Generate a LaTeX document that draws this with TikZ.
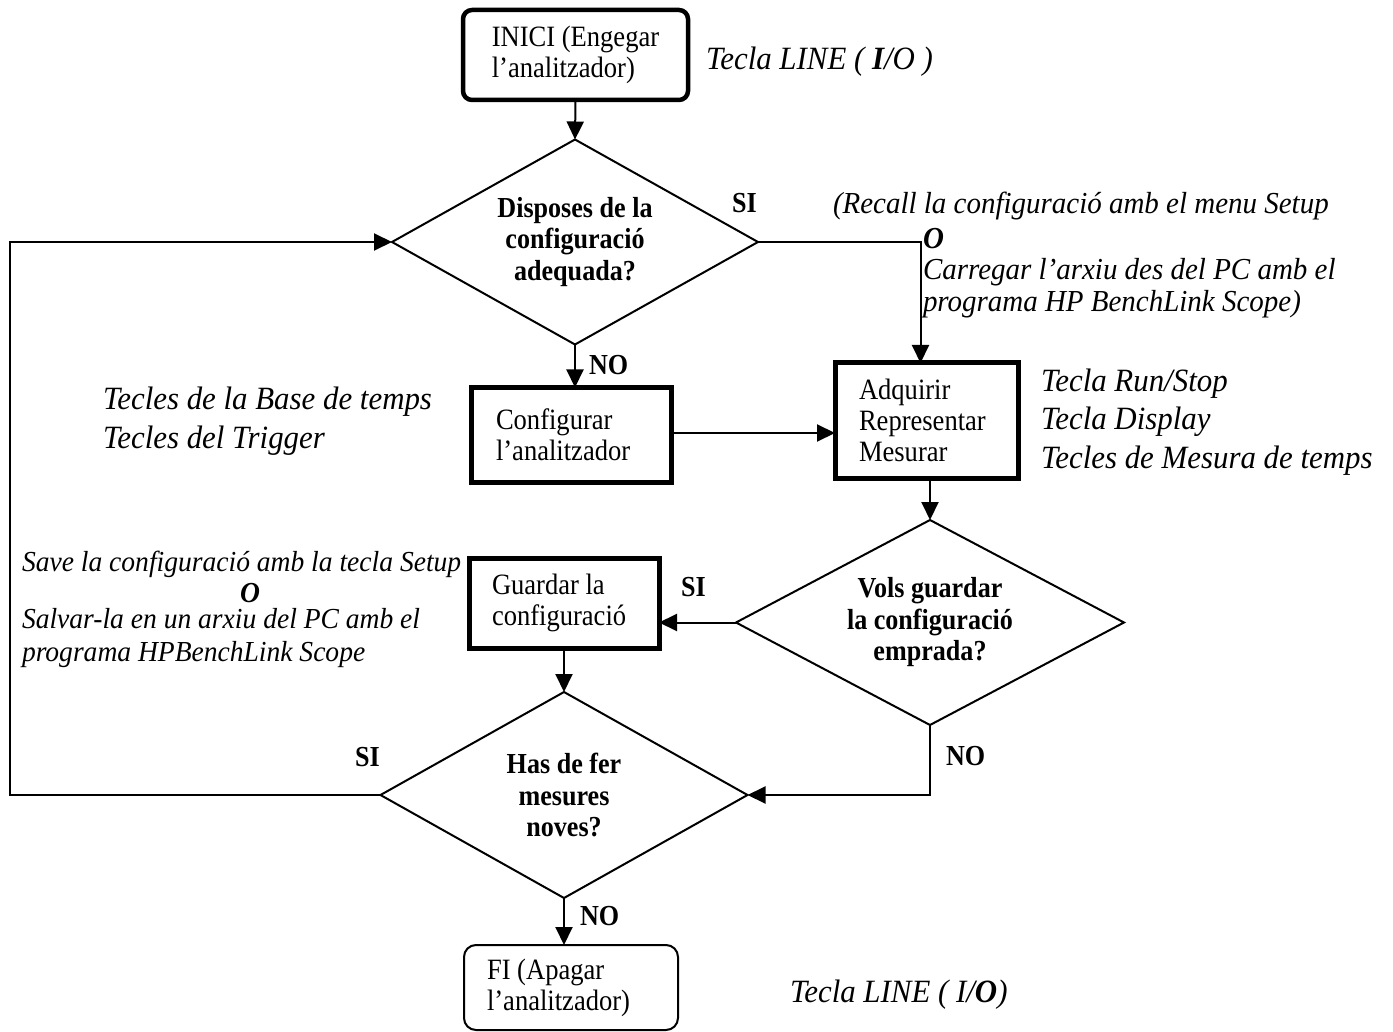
\documentclass[tikz,border=0pt]{standalone}
\usepackage{fontspec}
\setmainfont{Liberation Serif}[FakeStretch=0.9]
\newfontfamily\notefont{Liberation Serif}[FakeStretch=0.95]
\usetikzlibrary{shapes.geometric,arrows.meta}
\begin{document}
\begin{tikzpicture}[x=1pt,y=-1pt,
  every node/.style={inner sep=0pt,outer sep=0pt},
  boxtext/.style={font=\fontsize{29.5}{31}\selectfont},
  asktext/.style={font=\fontsize{29}{31.5}\selectfont\bfseries},
  notetext/.style={font=\notefont\fontsize{32.5}{38.5}\selectfont\itshape},
  smallnote/.style={font=\notefont\fontsize{30.5}{31.5}\selectfont\itshape},
  savenote/.style={font=\notefont\fontsize{29}{33}\selectfont\itshape},
  answer/.style={font=\fontsize{29}{31}\selectfont\bfseries, anchor=base west},
  startbox/.style={draw, line width=4.5pt, rounded corners=9pt, boxtext, align=flush left},
  procbox/.style={draw, line width=5pt, boxtext, align=flush left},
  endbox/.style={draw, line width=2pt, rounded corners=12pt, boxtext, align=flush left},
  decision/.style={draw, line width=2pt, diamond, asktext, align=center},
  flow/.style={line width=2pt},
  arr/.style={flow, -{Triangle[length=18pt,width=17pt]}}
]
\useasboundingbox (0,0) rectangle (1393,1032);

% process boxes
\node[startbox, minimum width=225pt, minimum height=90pt]
  (inici) at (575.5,55) {INICI (Engegar\\l’analitzador)};
\node[procbox, minimum width=200pt, minimum height=95pt, text width=150pt]
  (conf) at (571,435) {Configurar\\l’analitzador};
\node[procbox, minimum width=183pt, minimum height=115pt, text width=135pt]
  (adq) at (926.5,420.5) {Adquirir\\Representar\\Mesurar};
\node[procbox, minimum width=190pt, minimum height=90pt, text width=144pt]
  (gua) at (564,603) {Guardar la\\configuració};
\node[endbox, minimum width=214pt, minimum height=85pt, text width=168pt]
  (fin) at (571,987.5) {FI (Apagar\\l’analitzador)};

% decisions
\node[decision, minimum width=366pt, minimum height=205pt, aspect=1.785]
  (d1) at (575,242) {Disposes de la\\configuració\\adequada?};
\node[decision, minimum width=388pt, minimum height=205pt, aspect=1.89]
  (d2) at (930,622.5) {Vols guardar\\la configuració\\emprada?};
\node[decision, minimum width=367pt, minimum height=206pt, aspect=1.78]
  (d3) at (564,795) {Has de fer\\mesures\\noves?};

% answers
\node[answer] (si1) at (732,213) {SI};
\node[answer] (no1) at (589,374) {NO};
\node[answer] (si2) at (681,596) {SI};
\node[answer] (no2) at (946,765) {NO};
\node[answer] (si3) at (355,766) {SI};
\node[answer] (no3) at (580,925) {NO};

% side notes
\node[notetext, anchor=base west] (linea) at (706,70) {Tecla LINE ( {\bfseries I}/O )};
\node[smallnote, anchor=base west] (recall) at (833,214) {(Recall la configuració amb el menu Setup};
\node[smallnote, anchor=west, align=left] (carrega) at (923,273)
  {{\bfseries O}\\Carregar l’arxiu des del PC amb el\\programa HP BenchLink Scope)};
\node[notetext, anchor=west, align=left] (tbase) at (103,421)
  {Tecles de la Base de temps\\Tecles del Trigger};
\node[notetext, anchor=west, align=left] (trun) at (1041,422)
  {Tecla Run/Stop\\Tecla Display\\Tecles de Mesura de temps};
\node[savenote, anchor=base west] (save) at (22,571) {Save la configuració amb la tecla Setup};
\node[savenote, anchor=base] (saveo) at (250,602) {\bfseries O};
\node[savenote, anchor=west, align=left] (salva) at (22,638)
  {Salvar-la en un arxiu del PC amb el\\programa HPBenchLink Scope};
\node[notetext, anchor=base west] (lineb) at (790,1002) {Tecla LINE ( I/{\bfseries O})};

% connectors
\coordinate (loopcorner) at (10,795);
\draw[arr] (inici.south) -- (d1.north);
\draw[arr] (d1.south) -- (d1.south |- conf.north);
\draw[arr] (d1.east) -| ([xshift=-6pt]adq.north);
\draw[arr] (conf.east |- 0,433) -- (adq.west |- 0,433);
\draw[arr] ([xshift=3.5pt]adq.south) -- (d2.north);
\draw[arr] (d2.west) -- (d2.west -| gua.east);
\draw[arr] (gua.south) -- (d3.north);
\draw[arr] (d2.south) |- (d3.east);
\draw[arr] (d3.west) -- (loopcorner) |- (d1.west);
\draw[arr] (d3.south) -- (d3.south |- fin.north);
\end{tikzpicture}
\end{document}
